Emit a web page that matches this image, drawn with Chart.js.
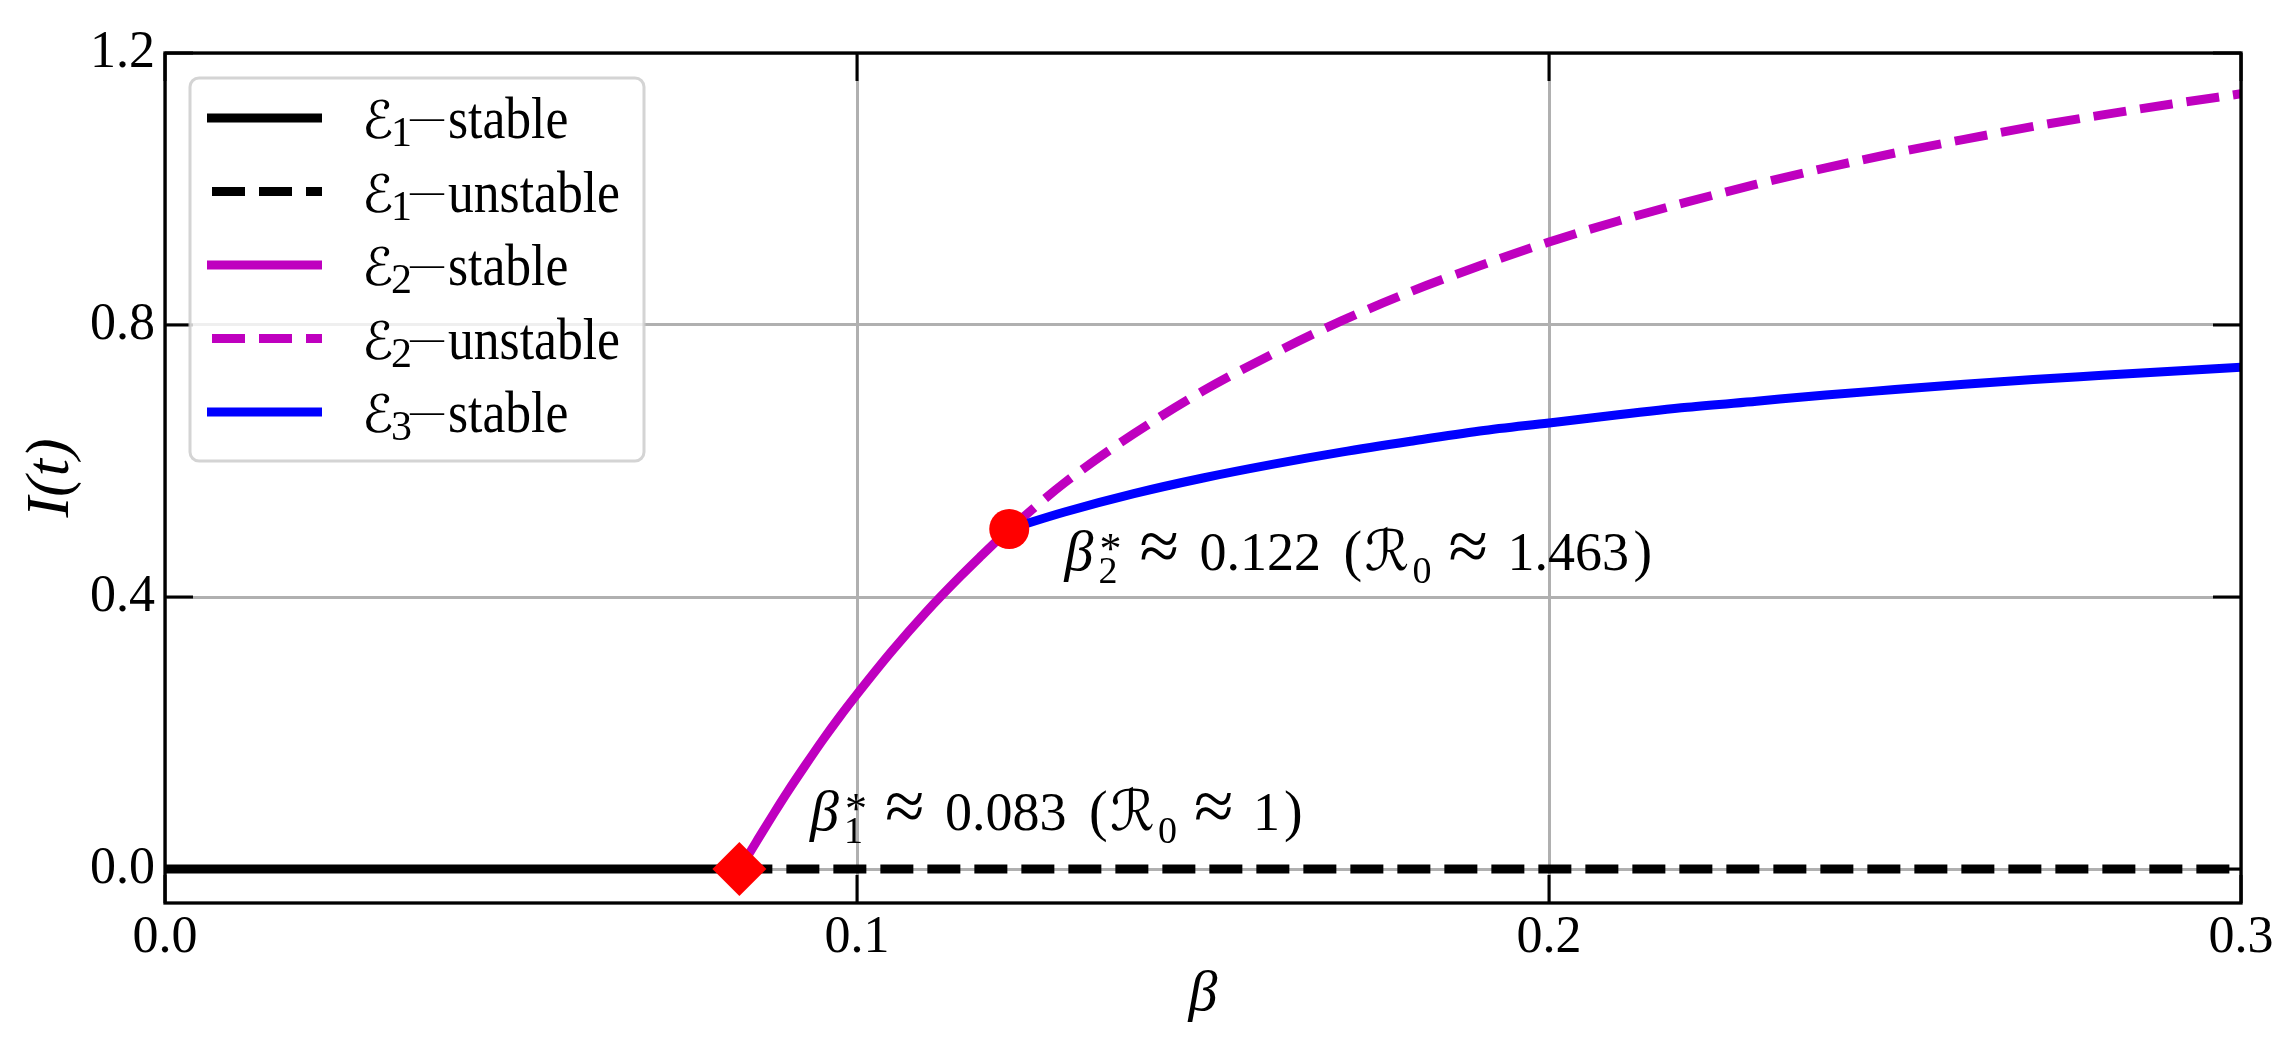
<!DOCTYPE html>
<html><head><meta charset="utf-8">
<script src="https://cdn.jsdelivr.net/npm/chart.js@4.4.1/dist/chart.umd.min.js"></script>
<style>html,body{margin:0;padding:0;background:#fff;}canvas{display:block;}</style>
</head><body>
<canvas id="c" width="2290" height="1041"></canvas>
<script>
// ---------------- data ----------------
const betaE1Stable = [0.0, 0.083];
const iE1Stable = [0, 0];
const betaE1Unstable = [0.083, 0.3];
const iE1Unstable = [0, 0];
const betaE2Stable = [0.083, 0.0845, 0.086, 0.088, 0.09, 0.0925, 0.095, 0.0975, 0.1, 0.105, 0.11, 0.115, 0.118, 0.122];
const iE2Stable = [0, 0.024, 0.049, 0.082, 0.114, 0.152, 0.189, 0.224, 0.257, 0.320, 0.378, 0.431, 0.461, 0.5];
const betaE2Unstable = [0.122, 0.13, 0.14, 0.15, 0.16, 0.17, 0.18, 0.19, 0.2, 0.21, 0.22, 0.23, 0.24, 0.25, 0.26, 0.27, 0.28, 0.29, 0.3];
const iE2Unstable = [0.5, 0.568, 0.640, 0.703, 0.757, 0.806, 0.849, 0.887, 0.922, 0.953, 0.981, 1.007, 1.031, 1.053, 1.073, 1.092, 1.109, 1.125, 1.140];
const betaE3Stable = [0.122, 0.13, 0.14, 0.15, 0.16, 0.17, 0.18, 0.19, 0.2, 0.21, 0.22, 0.23, 0.24, 0.25, 0.26, 0.27, 0.28, 0.29, 0.3];
const iE3Stable = [0.5, 0.525, 0.552, 0.575, 0.595, 0.613, 0.629, 0.644, 0.656, 0.668, 0.679, 0.688, 0.697, 0.705, 0.713, 0.720, 0.726, 0.732, 0.738];
const bifurcationBeta = [0.083, 0.122];
const bifurcationI = [0, 0.5];
const bifurcationR0 = ['1', '1.463'];
const xTicks = [0.0, 0.1, 0.2, 0.3];
const yTicks = [0.0, 0.4, 0.8, 1.2];
const seriesLabels = ['ℰ₁—stable', 'ℰ₁—unstable', 'ℰ₂—stable', 'ℰ₂—unstable', 'ℰ₃—stable'];
const xTitle = 'β';
const yTitle = 'I(t)';
// ------------------------------------------------------------------

const FONT = '"Liberation Serif", "Times New Roman", serif';
const CAL = '"DejaVu Serif", "DejaVu Sans", serif';
const MAG = '#bf00bf';

function toPts(xs, ys) { return xs.map((x, i) => ({x: x, y: ys[i]})); }
const lineBase = {fill: false, pointRadius: 0, pointHoverRadius: 0, borderWidth: 9,
  borderCapStyle: 'butt', borderJoinStyle: 'round', showLine: true, cubicInterpolationMode: 'monotone'};

// draw a list of text pieces, each placed at an x offset (px) from the anchor
function drawPieces(ctx, x0, y0, pieces) {
  ctx.textBaseline = 'alphabetic';
  ctx.textAlign = 'left';
  ctx.fillStyle = '#000';
  for (const p of pieces) {
    ctx.save();
    ctx.translate(x0 + p.at, y0 + (p.dy || 0));
    if (p.sx) ctx.scale(p.sx, 1);
    ctx.font = (p.f === 'i' ? 'italic ' : '') + p.size + 'px ' + (p.f === 'c' ? CAL : FONT);
    ctx.fillText(p.t, 0, 0);
    ctx.restore();
  }
}

// annotation texts: "β_k^* ≈ value (ℛ₀ ≈ r0)", anchored in data coordinates
function annPieces(k, idx) {
  const val = bifurcationBeta[idx].toFixed(3);
  const r0 = bifurcationR0[idx];
  return [
    {t: 'β', at: 0, f: 'i', size: 58},
    {t: '*', at: 35, size: 44, dy: -7},
    {t: String(k), at: 34, size: 38, dy: 13},
    {t: '≈', at: 75, size: 72},
    {t: val, at: 135, size: 54},
    {t: '(', at: 279, size: 56},
    {t: 'ℛ', at: 300, f: 'c', size: 56},
    {t: '0', at: 348, size: 38, dy: 13},
    {t: '≈', at: 384, size: 72},
    {t: r0, at: 443, size: 54},
    {t: ')', at: r0.length > 1 ? 569 : 474, size: 56}
  ];
}
const annotationAnchors = [
  {x: 0.0932, y: 0.057, k: 1, idx: 0},
  {x: 0.1300, y: 0.439, k: 2, idx: 1}
];

function legendPieces(label) {
  const subMap = {'₀': '0', '₁': '1', '₂': '2', '₃': '3'};
  return [
    {t: label[0], at: 0, f: 'c', size: 52},
    {t: subMap[label[1]], at: 29, size: 42, dy: 8},
    {t: label[2], at: 48, size: 34, dy: -10},
    {t: label.slice(3), at: 86, size: 60, sx: 0.86}
  ];
}

const decor = {
  id: 'decor',
  afterDatasetsDraw(chart) {
    const {ctx, chartArea: a, scales: {x, y}} = chart;
    ctx.save();
    ctx.strokeStyle = '#000';
    ctx.setLineDash([]);
    ctx.lineWidth = 3;
    const L = 28;
    ctx.beginPath();
    xTicks.forEach(v => { const p = x.getPixelForValue(v);
      ctx.moveTo(p, a.bottom); ctx.lineTo(p, a.bottom - L);
      ctx.moveTo(p, a.top); ctx.lineTo(p, a.top + L); });
    yTicks.forEach(v => { const p = y.getPixelForValue(v);
      ctx.moveTo(a.left, p); ctx.lineTo(a.left + L, p);
      ctx.moveTo(a.right, p); ctx.lineTo(a.right - L, p); });
    ctx.stroke();
    ctx.lineWidth = 3.3;
    ctx.strokeRect(a.left, a.top, a.right - a.left, a.bottom - a.top);
    annotationAnchors.forEach(an => {
      drawPieces(ctx, x.getPixelForValue(an.x), y.getPixelForValue(an.y), annPieces(an.k, an.idx));
    });
    // legend
    const lx = a.left + 25, ly = a.top + 25, lw = 454, lh = 383, r = 9;
    ctx.beginPath();
    ctx.moveTo(lx + r, ly);
    ctx.arcTo(lx + lw, ly, lx + lw, ly + lh, r);
    ctx.arcTo(lx + lw, ly + lh, lx, ly + lh, r);
    ctx.arcTo(lx, ly + lh, lx, ly, r);
    ctx.arcTo(lx, ly, lx + lw, ly, r);
    ctx.closePath();
    ctx.fillStyle = 'rgba(255,255,255,0.8)';
    ctx.fill();
    ctx.strokeStyle = 'rgba(204,204,204,0.85)';
    ctx.lineWidth = 3;
    ctx.stroke();
    const ds = chart.data.datasets;
    for (let i = 0; i < 5; i++) {
      const d = ds[i];
      const cy = ly + 40 + i * 73.5;
      ctx.beginPath();
      ctx.strokeStyle = d.borderColor;
      ctx.lineWidth = d.borderWidth;
      ctx.lineCap = 'butt';
      const dash = d.borderDash || [];
      ctx.setLineDash(dash);
      ctx.lineDashOffset = dash.length ? 42 : 0;
      ctx.moveTo(lx + 17, cy);
      ctx.lineTo(lx + 132, cy);
      ctx.stroke();
      ctx.setLineDash([]);
      drawPieces(ctx, lx + 172, cy + 20, legendPieces(d.label));
    }
    ctx.restore();
  }
};

new Chart(document.getElementById('c'), {
  type: 'line',
  data: {
    datasets: [
      Object.assign({label: seriesLabels[0], data: toPts(betaE1Stable, iE1Stable), borderColor: '#000000', borderDash: [], order: 6}, lineBase),
      Object.assign({label: seriesLabels[1], data: toPts(betaE1Unstable, iE1Unstable), borderColor: '#000000', borderDash: [33, 14], order: 5}, lineBase),
      Object.assign({label: seriesLabels[2], data: toPts(betaE2Stable, iE2Stable), borderColor: MAG, borderDash: [], order: 4}, lineBase),
      Object.assign({label: seriesLabels[3], data: toPts(betaE2Unstable, iE2Unstable), borderColor: MAG, borderDash: [33, 14], order: 3}, lineBase),
      Object.assign({label: seriesLabels[4], data: toPts(betaE3Stable, iE3Stable), borderColor: '#0000ff', borderDash: [], order: 2}, lineBase),
      {label: 'β₁*', data: [{x: bifurcationBeta[0], y: bifurcationI[0]}], showLine: false, pointStyle: 'rectRot',
       pointRadius: 27, pointHoverRadius: 27, backgroundColor: '#ff0000', borderColor: '#ff0000', borderWidth: 0, order: 1, clip: false},
      {label: 'β₂*', data: [{x: bifurcationBeta[1], y: bifurcationI[1]}], showLine: false, pointStyle: 'circle',
       pointRadius: 20, pointHoverRadius: 20, backgroundColor: '#ff0000', borderColor: '#ff0000', borderWidth: 0, order: 0, clip: false}
    ]
  },
  options: {
    responsive: false,
    devicePixelRatio: 1,
    animation: false,
    events: [],
    layout: {padding: {left: 0, right: 49, top: 53, bottom: 0}},
    plugins: {legend: {display: false}, tooltip: {enabled: false}},
    scales: {
      x: {
        type: 'linear', min: 0, max: 0.3,
        afterBuildTicks: s => { s.ticks = xTicks.map(v => ({value: v})); },
        afterFit: s => { s.height = 138; },
        ticks: {callback: v => Number(v).toFixed(1), font: {family: FONT, size: 52}, color: '#000', padding: 4, maxRotation: 0, autoSkip: false},
        grid: {color: '#b0b0b0', lineWidth: 3, drawTicks: false},
        border: {display: false},
        title: {display: true, text: xTitle, font: {family: FONT, size: 58, style: 'italic'}, color: '#000', padding: {top: 0, bottom: 11}}
      },
      y: {
        type: 'linear', min: -0.05, max: 1.2,
        afterBuildTicks: s => { s.ticks = yTicks.map(v => ({value: v})); },
        afterFit: s => { s.width = 165; },
        ticks: {callback: v => Number(v).toFixed(1), font: {family: FONT, size: 52}, color: '#000', padding: 10, autoSkip: false},
        grid: {color: '#b0b0b0', lineWidth: 3, drawTicks: false},
        border: {display: false},
        title: {display: true, text: yTitle, font: {family: FONT, size: 62, style: 'italic'}, color: '#000', padding: {top: 15, bottom: 0}}
      }
    }
  },
  plugins: [decor]
});
</script>
</body></html>
